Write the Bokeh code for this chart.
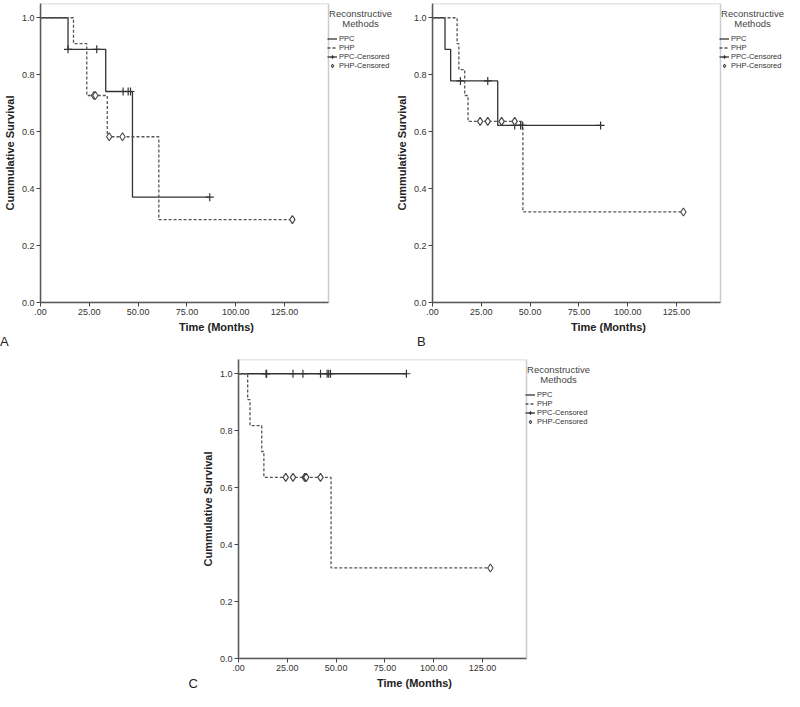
from bokeh.plotting import figure
from bokeh.models import (Range1d, FixedTicker, Legend, LegendItem, Label, Spacer,
                          BoxAnnotation, Div)
from bokeh.layouts import column, row
from bokeh.embed import file_html
from bokeh.resources import INLINE

X_TICKS = [0, 25, 50, 75, 100, 125]
X_TICK_LABELS = [".00", "25.00", "50.00", "75.00", "100.00", "125.00"]
Y_TICKS = [0.0, 0.2, 0.4, 0.6, 0.8, 1.0]
Y_TICK_LABELS = ["0.0", "0.2", "0.4", "0.6", "0.8", "1.0"]
LEGEND_TITLE = ["Reconstructive", "Methods"]
LEGEND_LABELS = ["PPC", "PHP", "PPC-Censored", "PHP-Censored"]
PANEL_LETTERS = ["A", "B", "C"]
X_MAX = 147.5
Y_MAX = 1.05

# Panel A
A_PPC_T = [0, 14.1, 33.4, 47.1, 86.7]
A_PPC_S = [1.0, 0.889, 0.741, 0.370, 0.370]
A_PPC_CENS_T = [14.1, 28.8, 42.3, 44.9, 46.1, 86.7]
A_PPC_CENS_S = [0.889, 0.889, 0.741, 0.741, 0.741, 0.370]
A_PHP_T = [0, 16.9, 23.7, 34.2, 60.6, 129.0]
A_PHP_S = [1.0, 0.909, 0.727, 0.582, 0.291, 0.291]
A_PHP_CENS_T = [27.4, 28.1, 35.2, 42.0, 129.0]
A_PHP_CENS_S = [0.727, 0.727, 0.582, 0.582, 0.291]

# Panel B
B_PPC_T = [0, 6.4, 9.3, 33.4, 86.1]
B_PPC_S = [1.0, 0.889, 0.778, 0.622, 0.622]
B_PPC_CENS_T = [14.3, 28.3, 42.1, 45.1, 46.0, 86.1]
B_PPC_CENS_S = [0.778, 0.778, 0.622, 0.622, 0.622, 0.622]
B_PHP_T = [0, 12.6, 13.5, 16.5, 18.2, 46.3, 128.5]
B_PHP_S = [1.0, 0.909, 0.818, 0.727, 0.636, 0.318, 0.318]
B_PHP_CENS_T = [24.4, 28.3, 35.4, 42.1, 128.5]
B_PHP_CENS_S = [0.636, 0.636, 0.636, 0.636, 0.318]

# Panel C
C_PPC_T = [0, 86.0]
C_PPC_S = [1.0, 1.0]
C_PPC_CENS_T = [14.1, 14.4, 27.9, 33.0, 42.0, 45.4, 46.2, 47.1, 86.0]
C_PPC_CENS_S = [1.0, 1.0, 1.0, 1.0, 1.0, 1.0, 1.0, 1.0, 1.0]
C_PHP_T = [0, 4.7, 5.9, 11.9, 13.0, 47.4, 129.0]
C_PHP_S = [1.0, 0.909, 0.818, 0.727, 0.636, 0.318, 0.318]
C_PHP_CENS_T = [24.2, 27.9, 33.9, 34.4, 34.7, 42.0, 129.0]
C_PHP_CENS_S = [0.636, 0.636, 0.636, 0.636, 0.636, 0.636, 0.318]

FONT = "Liberation Sans"
BOX_W = 288     # visible plot box width (px)
LEG_W = 64      # legend strip width (px)
LEFT = 40
FIG_W = LEFT + BOX_W + LEG_W


def make_panel(ppc_t, ppc_s, ppc_ct, ppc_cs, php_t, php_s, php_ct, php_cs,
               height, top, bottom):
    frame_h = height - top - bottom
    x_end = X_MAX * (BOX_W + LEG_W) / BOX_W
    p = figure(width=FIG_W, height=height, output_backend="svg", toolbar_location=None,
               x_range=Range1d(0, x_end), y_range=Range1d(0, Y_MAX),
               min_border_left=LEFT, min_border_right=0,
               min_border_top=top, min_border_bottom=bottom)
    p.xgrid.visible = False
    p.ygrid.visible = False
    p.outline_line_color = None

    for ax, ticks, labels, bounds in ((p.xaxis[0], X_TICKS, X_TICK_LABELS, (0, X_MAX)),
                                      (p.yaxis[0], Y_TICKS, Y_TICK_LABELS, (0, Y_MAX))):
        ax.ticker = FixedTicker(ticks=ticks)
        ax.bounds = bounds
        ax.major_label_overrides = {t: l for t, l in zip(ticks, labels)}
        ax.minor_tick_line_color = None
        ax.major_tick_in = 0
        ax.major_tick_out = 4
        ax.major_tick_line_color = "#444444"
        ax.axis_line_color = "#5a5a5a"
        ax.axis_line_width = 1.5
        ax.major_label_text_font = FONT
        ax.major_label_text_font_size = "9px"
        ax.major_label_text_color = "#333333"
        ax.major_label_standoff = 2
        ax.axis_label_text_font = FONT
        ax.axis_label_text_font_size = "11px"
        ax.axis_label_text_font_style = "bold"
        ax.axis_label_text_color = "#222222"
        ax.axis_label_standoff = 3
    p.xaxis.axis_label = "Time (Months)"
    p.yaxis.axis_label = "Cummulative Survival"

    p.add_layout(BoxAnnotation(left=0, right=X_MAX, bottom=0, top=Y_MAX, fill_alpha=0,
                               line_color="#5a5a5a", line_width=1.5))

    r_ppc = p.step(ppc_t, ppc_s, mode="after", line_color="#333333", line_width=1.3)
    r_php = p.step(php_t, php_s, mode="after", line_color="#555555", line_width=1.3,
                   line_dash="3 2")
    r_ppc_c = p.scatter(ppc_ct, ppc_cs, marker="cross", size=8, line_color="#333333",
                        line_width=1.2)
    r_php_c = p.scatter(php_ct, php_cs, marker="diamond", size=8, line_color="#444444",
                        fill_color="white", line_width=1.1)

    legend = Legend(items=[
        LegendItem(label=LEGEND_LABELS[0], renderers=[r_ppc]),
        LegendItem(label=LEGEND_LABELS[1], renderers=[r_php]),
        LegendItem(label=LEGEND_LABELS[2], renderers=[r_ppc, r_ppc_c]),
        LegendItem(label=LEGEND_LABELS[3], renderers=[r_php_c]),
    ], orientation="vertical")
    legend.label_text_font = FONT
    legend.label_text_font_size = "7.5px"
    legend.label_text_color = "#333333"
    legend.glyph_width = 10
    legend.glyph_height = 9
    legend.label_height = 9
    legend.spacing = 0
    legend.label_standoff = 2
    legend.padding = 1
    legend.margin = 0
    legend.border_line_color = None
    legend.background_fill_alpha = 0
    for i, t in enumerate(LEGEND_TITLE):
        p.add_layout(Label(x=BOX_W + LEG_W / 2, y=frame_h - 5 - 10 * i,
                           x_units="screen", y_units="screen", text=t,
                           text_align="center", text_baseline="top",
                           text_font=FONT, text_font_size="9.5px",
                           text_color="#444444"))
    legend.location = (BOX_W - 1, frame_h - 68)
    p.add_layout(legend, "center")
    return p


def letter_div(text, width, height, align="left"):
    return Div(text=f'<div style="text-align:{align};width:{width}px">{text}</div>',
               width=width, height=height, margin=0,
               styles={"font-family": FONT, "font-size": "13px", "color": "#222222",
                       "line-height": "14px"})


ROW1_H = 335
LETTER_H = 12
ROW2_H = 344
C_OFFSET = 198

pa = make_panel(A_PPC_T, A_PPC_S, A_PPC_CENS_T, A_PPC_CENS_S,
                A_PHP_T, A_PHP_S, A_PHP_CENS_T, A_PHP_CENS_S,
                height=ROW1_H, top=3, bottom=32)
pb = make_panel(B_PPC_T, B_PPC_S, B_PPC_CENS_T, B_PPC_CENS_S,
                B_PHP_T, B_PHP_S, B_PHP_CENS_T, B_PHP_CENS_S,
                height=ROW1_H, top=3, bottom=32)
pc = make_panel(C_PPC_T, C_PPC_S, C_PPC_CENS_T, C_PPC_CENS_S,
                C_PHP_T, C_PHP_S, C_PHP_CENS_T, C_PHP_CENS_S,
                height=ROW2_H, top=12, bottom=32)

letters = row(letter_div(PANEL_LETTERS[0], 417, LETTER_H),
              letter_div(PANEL_LETTERS[1], 2 * FIG_W - 417, LETTER_H))
left_col = column(Spacer(width=C_OFFSET, height=ROW2_H - 14),
                  letter_div(PANEL_LETTERS[2], C_OFFSET, 14, align="right"))

layout = column(row(pa, pb), letters, row(left_col, pc))

with open("out.html", "w") as f:
    f.write(file_html(layout, INLINE))
